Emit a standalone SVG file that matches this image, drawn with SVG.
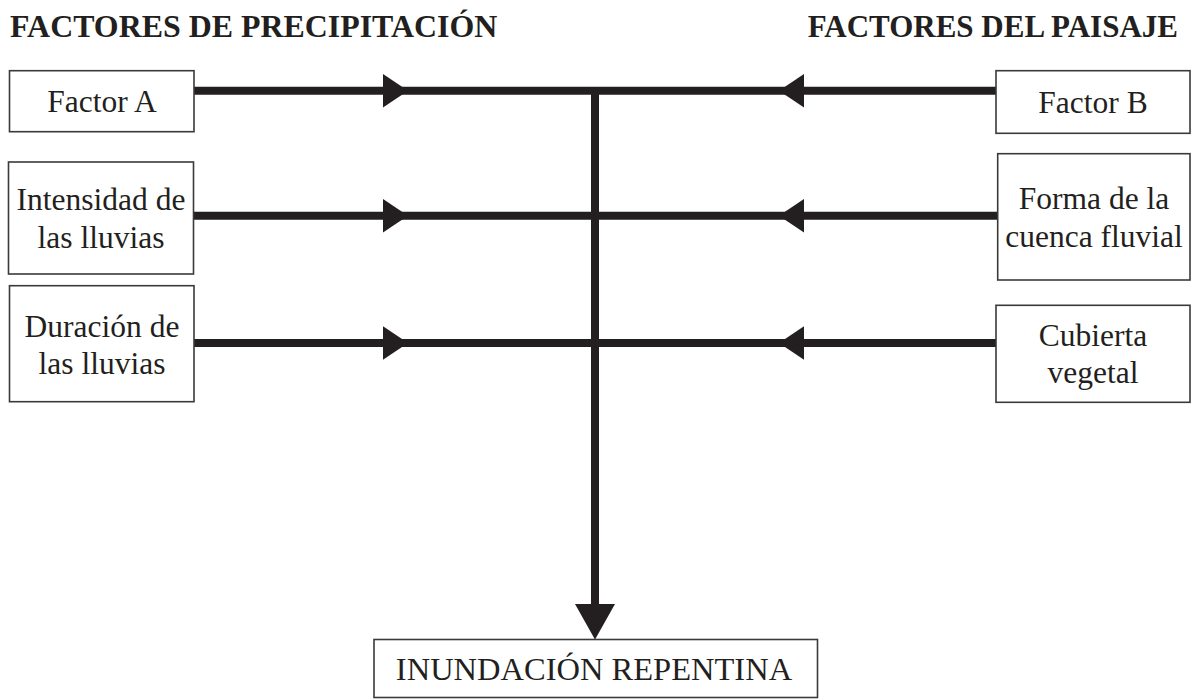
<svg xmlns="http://www.w3.org/2000/svg" width="1198" height="699" viewBox="0 0 1198 699">
<style>
.box{fill:#fff;stroke:#3a3a3a;stroke-width:1.6}
.t{font-family:"Liberation Serif","Times New Roman",serif;font-size:31.5px;fill:#231f20;text-anchor:middle}
.h{font-family:"Liberation Serif","Times New Roman",serif;font-size:31px;font-weight:bold;fill:#231f20}
.ln{stroke:#231f20;stroke-width:8;fill:none}
.ah{fill:#231f20}
</style>
<rect width="1198" height="699" fill="#fff"/>
<g id="titles">
<text class="h" x="10" y="37" style="font-size:31.9px">FACTORES DE PRECIPITACIÓN</text>
<text class="h" x="1178" y="37" text-anchor="end">FACTORES DEL PAISAJE</text>
</g>
<g id="connectors">
<line class="ln" x1="194" y1="90.7" x2="996" y2="90.7"/>
<line class="ln" x1="193" y1="215.7" x2="998" y2="215.7"/>
<line class="ln" x1="194" y1="343" x2="996" y2="343"/>
<line class="ln" x1="595" y1="87" x2="595" y2="606"/>
<polygon class="ah" points="383,74 408,90.7 383,107.4"/>
<polygon class="ah" points="383,199 408,215.7 383,232.4"/>
<polygon class="ah" points="383,326.3 408,343 383,359.7"/>
<polygon class="ah" points="804,74 779,90.7 804,107.4"/>
<polygon class="ah" points="804,199 779,215.7 804,232.4"/>
<polygon class="ah" points="804,326.3 779,343 804,359.7"/>
<polygon class="ah" points="575,604 615,604 595,639.5"/>
</g>
<g id="factor-a">
<rect class="box" x="9.5" y="70.7" width="184.5" height="61"/>
<text class="t" x="102" y="112">Factor A</text>
</g>
<g id="intensidad">
<rect class="box" x="8.5" y="162" width="185" height="112"/>
<text class="t" x="101" y="210">Intensidad de</text>
<text class="t" x="101" y="247.5">las lluvias</text>
</g>
<g id="duracion">
<rect class="box" x="9.5" y="285.7" width="184.5" height="116"/>
<text class="t" x="102" y="337">Duración de</text>
<text class="t" x="102" y="374">las lluvias</text>
</g>
<g id="factor-b">
<rect class="box" x="996" y="70.7" width="194" height="62.6"/>
<text class="t" x="1093" y="113">Factor B</text>
</g>
<g id="forma">
<rect class="box" x="997.7" y="153.7" width="192.3" height="126.3"/>
<text class="t" x="1094" y="209">Forma de la</text>
<text class="t" x="1094" y="246.5">cuenca fluvial</text>
</g>
<g id="cubierta">
<rect class="box" x="996" y="305.3" width="194" height="97"/>
<text class="t" x="1093" y="345.5">Cubierta</text>
<text class="t" x="1093" y="382.5">vegetal</text>
</g>
<g id="inundacion">
<rect class="box" x="374" y="639.5" width="443.5" height="58"/>
<text class="t" x="594" y="680" style="font-size:32.5px">INUNDACIÓN REPENTINA</text>
</g>
</svg>
